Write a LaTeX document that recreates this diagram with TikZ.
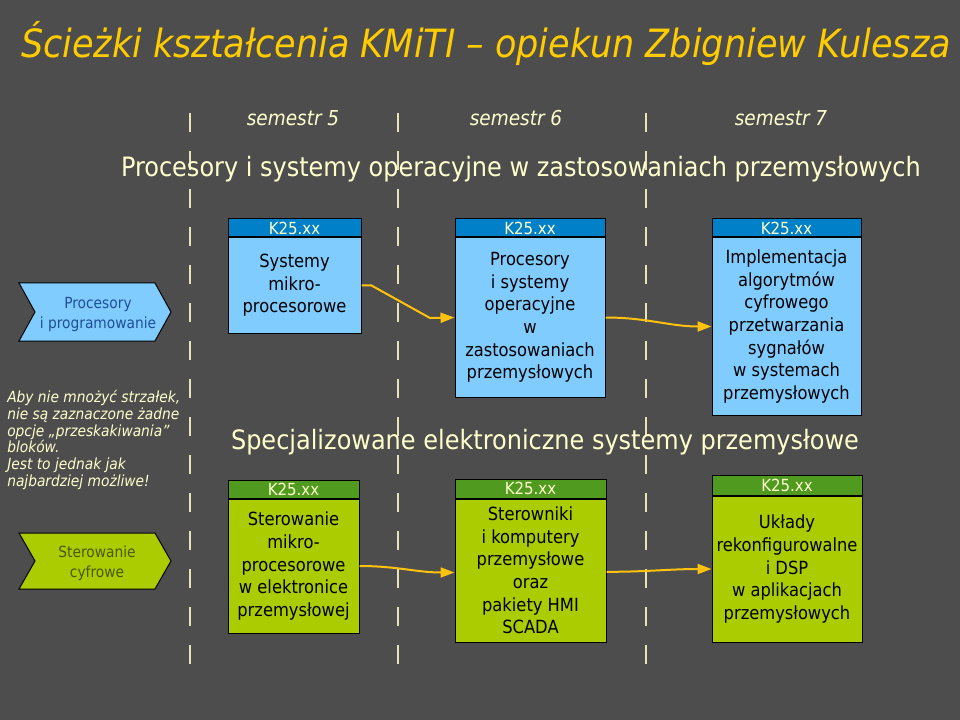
\documentclass[tikz,border=0pt]{standalone}
\usepackage{fontspec}
\setmainfont{DejaVu Sans Condensed}[ItalicFont={DejaVu Sans Condensed Oblique}]
\usepackage{xcolor}
\usetikzlibrary{arrows.meta}

\definecolor{bg}{HTML}{4D4D4D}
\definecolor{titlec}{HTML}{FFCC00}
\definecolor{cream}{HTML}{FFFFCC}
\definecolor{dashc}{HTML}{E6E4B6}
\definecolor{headblue}{HTML}{0080C8}
\definecolor{bodyblue}{HTML}{80CCFF}
\definecolor{headgreen}{HTML}{4F9A1F}
\definecolor{bodygreen}{HTML}{AACC00}
\definecolor{arrowc}{HTML}{FFC20E}
\definecolor{chevbluetxt}{HTML}{1F4E99}
\definecolor{chevgreentxt}{HTML}{4A5800}

\begin{document}
\begin{tikzpicture}[x=0.75pt,y=-0.75pt,
  boxsize/.style 2 args={minimum width=#1*0.75pt,minimum height=#2*0.75pt},
  body/.style={draw=black,line width=0.75pt,inner sep=0pt,align=center,text=black,
    font=\fontsize{13.6}{16.9}\selectfont},
  head/.style={draw=black,line width=0.75pt,inner sep=0pt,anchor=south west,
    text=cream,font=\fontsize{12.5}{13}\selectfont},
  chev/.style={draw=black,line width=0.75pt},
  chevtxt/.style={align=center,inner sep=0pt,font=\fontsize{11.5}{15}\selectfont},
  arr/.style={draw=arrowc,line width=1.5pt,-{Triangle[length=10.5pt,width=7.5pt]}},
  dashline/.style={draw=dashc,line width=1.5pt,dash pattern=on 14.25pt off 14.25pt}]
  \fill[bg] (0,0) rectangle (960,720);
  \useasboundingbox (0,0) rectangle (960,720);

  \node[anchor=base,text=titlec,inner sep=0pt,font=\fontsize{29.2}{32}\selectfont\itshape]
    (title) at (486,58) {Ścieżki kształcenia KMiTI – opiekun Zbigniew Kulesza};

  \foreach \x in {190,398,646}
    \draw[dashline] (\x,113) -- (\x,665);

  \foreach \x/\n in {293/5,516/6,781/7}
    \node[anchor=base,text=cream,inner sep=0pt,font=\fontsize{15.4}{17}\selectfont\itshape]
      (sem\n) at (\x,126) {semestr \n};

  \node[anchor=base,text=cream,inner sep=0pt,font=\fontsize{20}{22}\selectfont]
    (track1) at (521,177) {Procesory i systemy operacyjne w zastosowaniach przemysłowych};
  \node[anchor=base,text=cream,inner sep=0pt,font=\fontsize{20}{22}\selectfont]
    (track2) at (545,449) {Specjalizowane elektroniczne systemy przemysłowe};

  % sciezka: procesory
  \draw[chev,fill=bodyblue] (19,283) -- (155,283) -- (171,312) -- (155,341) -- (19,341) -- (35,312) -- cycle;
  \node[chevtxt,text=chevbluetxt] (procprog) at (98,315) {Procesory\\i programowanie};

  \node[body,fill=bodyblue,boxsize={133}{95}] (b1) at (294.5,285.5) {Systemy\\mikro-\\procesorowe};
  \node[head,fill=headblue,boxsize={133}{18}] (h1) at (b1.north west) {K25.xx};
  \node[body,fill=bodyblue,boxsize={150}{159}] (b2) at (530,317.5)
    {Procesory\\i systemy\\operacyjne\\w\\zastosowaniach\\przemysłowych};
  \node[head,fill=headblue,boxsize={150}{18}] (h2) at (b2.north west) {K25.xx};
  \node[body,fill=bodyblue,boxsize={149}{177}] (b3) at (786.5,326.5)
    {Implementacja\\algorytmów\\cyfrowego\\przetwarzania\\sygnałów\\w systemach\\przemysłowych};
  \node[head,fill=headblue,boxsize={149}{18}] (h3) at (b3.north west) {K25.xx};

  % sciezka: sterowanie
  \draw[chev,fill=bodygreen] (19,533) -- (155,533) -- (171,561) -- (155,589) -- (19,589) -- (35,561) -- cycle;
  \node[chevtxt,text=chevgreentxt] (sterc) at (97,563) {Sterowanie\\cyfrowe};

  \node[body,fill=bodygreen,boxsize={131}{134}] (g1) at (293.5,566)
    {Sterowanie\\mikro-\\procesorowe\\w elektronice\\przemysłowej};
  \node[head,fill=headgreen,boxsize={131}{18}] (hg1) at (g1.north west) {K25.xx};
  \node[body,fill=bodygreen,boxsize={151}{143}] (g2) at (530.5,570.5)
    {Sterowniki\\i komputery\\przemysłowe\\oraz\\pakiety HMI\\SCADA};
  \node[head,fill=headgreen,boxsize={151}{19}] (hg2) at (g2.north west) {K25.xx};
  \node[body,fill=bodygreen,boxsize={150}{146}] (g3) at (787,569)
    {Układy\\rekonfigurowalne\\i DSP\\w aplikacjach\\przemysłowych};
  \node[head,fill=headgreen,boxsize={150}{20}] (hg3) at (g3.north west) {K25.xx};

  \draw[arr] (b1.east) -- ++(10,0) -- (430,318) -- (b2.west);
  \draw[arr] (b2.east) to[out=0,in=180] (b3.west);
  \draw[arr] (g1.east) to[out=0,in=180] ([yshift=-1.5pt]g2.west);
  \draw[arr] ([yshift=-1pt]g2.east) to[out=0,in=180] (g3.west);

  \node[anchor=north west,align=left,text=cream,inner sep=0pt,
    font=\fontsize{11.5}{12.6}\selectfont\itshape] (note) at (7,390)
    {Aby nie mnożyć strzałek,\\nie są zaznaczone żadne\\opcje „przeskakiwania”\\bloków.\\Jest to jednak jak\\najbardziej możliwe!};
\end{tikzpicture}
\end{document}
